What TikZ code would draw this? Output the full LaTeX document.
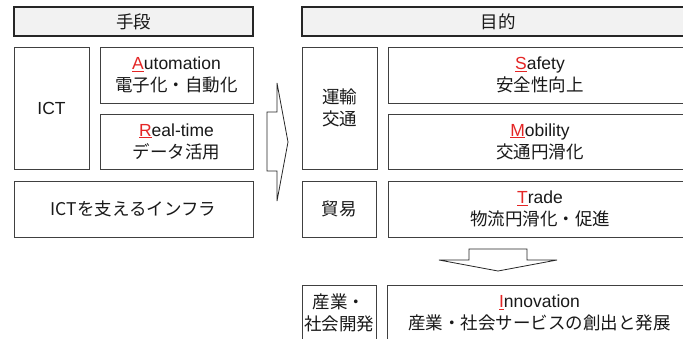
\documentclass[tikz,border=0pt]{standalone}
\usepackage{fontspec}
\setmainfont{Liberation Sans}
\newfontfamily\jp{Noto Sans CJK JP}
\definecolor{hdrfill}{HTML}{F2F2F2}
\definecolor{edge}{HTML}{404040}
\definecolor{hdredge}{HTML}{262626}
\definecolor{accent}{HTML}{E42626}
\newcommand{\initial}[1]{\textcolor{accent}{\underline{#1}}}
\tikzset{
  box/.style={draw=edge, line width=1pt, fill=white, inner sep=0pt, align=center,
    font=\fontsize{17.5}{22}\selectfont, text=black!90},
  hdr/.style={box, fill=hdrfill, draw=hdredge, line width=1.4pt},
  blockarrow/.style={draw=black!85, line width=0.8pt, fill=white, line join=miter}
}
\begin{document}
\begin{tikzpicture}[x=1pt,y=-1pt]
\useasboundingbox (0,0) rectangle (683,338);
\clip (0,0) rectangle (683,338);
% left column
\node[hdr, minimum width=239pt, minimum height=29pt] (means) at (133.5,21.5) {\jp 手段};
\node[box, minimum width=75pt, minimum height=122pt] (ict) at (51.5,108) {ICT};
\node[box, minimum width=153pt, minimum height=56pt] (auto) at (176.5,75) {\initial{A}utomation\\\jp 電子化・自動化};
\node[box, minimum width=153pt, minimum height=55pt] (real) at (176.5,141.5) {\initial{R}eal-time\\\jp データ活用};
\node[box, minimum width=239pt, minimum height=56pt] (infra) at (133.5,209) {\jp ICTを支えるインフラ};
% right column
\node[hdr, minimum width=392pt, minimum height=29pt] (goal) at (498,21.5) {\jp 目的};
\node[box, minimum width=75pt, minimum height=122pt] (traffic) at (339.5,108) {\jp 運輸\\\jp 交通};
\node[box, minimum width=304pt, minimum height=56pt] (safety) at (540,75) {\initial{S}afety\\\jp 安全性向上};
\node[box, minimum width=304pt, minimum height=55pt] (mob) at (540,141.5) {\initial{M}obility\\\jp 交通円滑化};
\node[box, minimum width=74pt, minimum height=56pt] (trade0) at (339,209) {\jp 貿易};
\node[box, minimum width=304pt, minimum height=56pt] (trade) at (540,209) {\initial{T}rade\\\jp 物流円滑化・促進};
\node[box, minimum width=74pt, minimum height=56pt] (ind) at (339,313) {\jp 産業・\\\jp 社会開発};
\node[box, minimum width=305pt, minimum height=56pt] (innov) at (539.5,313) {\initial{I}nnovation\\\jp 産業・社会サービスの創出と発展};
% block arrows
\draw[blockarrow] (267,112) -- (277,112) -- (277,83) -- (288,142) -- (277,201) -- (277,171) -- (267,171) -- cycle;
\draw[blockarrow] (469,249) -- (527,249) -- (527,260) -- (557,260) -- (498,271) -- (439,260) -- (469,260) -- cycle;
\end{tikzpicture}
\end{document}
